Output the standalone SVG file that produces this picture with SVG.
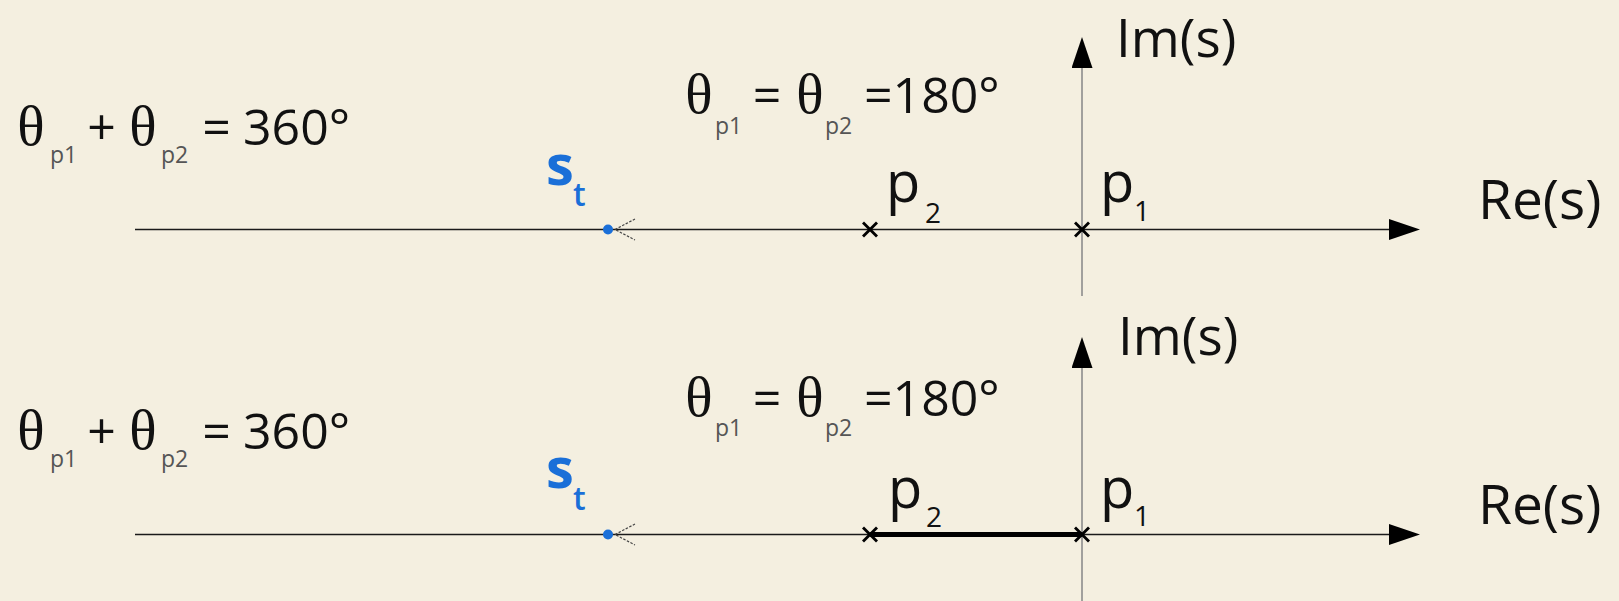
<svg xmlns="http://www.w3.org/2000/svg" width="1619" height="601" viewBox="0 0 1619 601">
<defs>
<marker id="axisArrow" viewBox="0 0 31 21" refX="0" refY="10.5" markerWidth="31" markerHeight="21" markerUnits="userSpaceOnUse" orient="auto">
<path d="M0,0 L31,10.5 L0,21 z" fill="#000"/>
</marker>
<style>
.bg{fill:#f4efe0}
.re{stroke:#1a1a1a;stroke-width:1.6;fill:none}
.im{stroke:#8c8c8c;stroke-width:1.6;fill:none}
.cross{stroke:#000;stroke-width:2.8;stroke-linecap:butt}
.thick{stroke:#000;stroke-width:5}
.dash{stroke:#444;stroke-width:1.2;stroke-dasharray:2.5 1.5;fill:none}
.dot{fill:#1a6fd8}
.th{font-family:"Liberation Serif",serif;font-size:57px;fill:#111;text-anchor:middle}
.sub{font-family:"Open Sans",sans-serif;font-size:23px;fill:#555}
.op{font-family:"Open Sans",sans-serif;font-size:50px;fill:#111}
.ax{font-family:"Open Sans",sans-serif;font-size:55px;fill:#111}
.axi{font-family:"Open Sans",sans-serif;font-size:53px;fill:#111}
.pl{font-family:"Open Sans",sans-serif;font-size:56px;fill:#111}
.ps{font-family:"Open Sans",sans-serif;font-size:28px;fill:#111}
.st{font-family:"Open Sans",sans-serif;font-size:56px;font-weight:bold;fill:#1a6fd8}
.stt{font-family:"Open Sans",sans-serif;font-size:32px;font-weight:600;fill:#1a6fd8}
</style>
</defs>
<rect class="bg" x="0" y="0" width="1619" height="601"/>

<g id="connectors">
<line class="im" x1="1082" y1="296" x2="1082" y2="68" marker-end="url(#axisArrow)"/>
<line class="re" x1="135" y1="229.5" x2="1389" y2="229.5" marker-end="url(#axisArrow)"/>
<polyline class="dash" points="635,219 615,229.5 635,240"/>
<line class="im" x1="1082" y1="601" x2="1082" y2="368" marker-end="url(#axisArrow)"/>
<line class="re" x1="135" y1="534.5" x2="1389" y2="534.5" marker-end="url(#axisArrow)"/>
<polyline class="dash" points="635,524 615,534.5 635,545"/>
<line class="thick" x1="870" y1="534.5" x2="1082" y2="534.5"/>
</g>

<g id="top-sum-label">
<text class="th" x="31" y="145">θ</text>
<text class="sub" x="50" y="163">p1</text>
<text class="op" x="101.5" y="145" text-anchor="middle">+</text>
<text class="th" x="143" y="145">θ</text>
<text class="sub" x="161" y="163">p2</text>
<text class="op" x="216.5" y="145" text-anchor="middle">=</text>
<text class="op" x="243" y="145">360°</text>
</g>
<g id="top-eq-label">
<text class="th" x="699" y="113">θ</text>
<text class="sub" x="715" y="134">p1</text>
<text class="op" x="767" y="113" text-anchor="middle">=</text>
<text class="th" x="810" y="113">θ</text>
<text class="sub" x="825" y="134">p2</text>
<text class="op" x="864" y="113">=180°</text>
</g>
<g id="top-im-label"><text class="axi" x="1116" y="57">Im(s)</text></g>
<g id="top-re-label"><text class="ax" x="1478" y="219">Re(s)</text></g>
<g id="top-st">
<circle class="dot" cx="608" cy="229.5" r="5"/>
<text class="st" x="546" y="185">s</text>
<text class="stt" x="573" y="206">t</text>
</g>
<g id="top-p2">
<line class="cross" x1="863" y1="222.5" x2="877" y2="236.5"/>
<line class="cross" x1="863" y1="236.5" x2="877" y2="222.5"/>
<text class="pl" x="886" y="202">p</text>
<text class="ps" x="925" y="223">2</text>
</g>
<g id="top-p1">
<line class="cross" x1="1075" y1="222.5" x2="1089" y2="236.5"/>
<line class="cross" x1="1075" y1="236.5" x2="1089" y2="222.5"/>
<text class="pl" x="1100" y="202">p</text>
<text class="ps" x="1134" y="221">1</text>
</g>

<g id="bottom-sum-label">
<text class="th" x="31" y="449">θ</text>
<text class="sub" x="50" y="467">p1</text>
<text class="op" x="101.5" y="449" text-anchor="middle">+</text>
<text class="th" x="143" y="449">θ</text>
<text class="sub" x="161" y="467">p2</text>
<text class="op" x="216.5" y="449" text-anchor="middle">=</text>
<text class="op" x="243" y="449">360°</text>
</g>
<g id="bottom-eq-label">
<text class="th" x="699" y="416">θ</text>
<text class="sub" x="715" y="436">p1</text>
<text class="op" x="767" y="416" text-anchor="middle">=</text>
<text class="th" x="810" y="416">θ</text>
<text class="sub" x="825" y="436">p2</text>
<text class="op" x="864" y="416">=180°</text>
</g>
<g id="bottom-im-label"><text class="axi" x="1118" y="355">Im(s)</text></g>
<g id="bottom-re-label"><text class="ax" x="1478" y="524">Re(s)</text></g>
<g id="bottom-st">
<circle class="dot" cx="608" cy="534.5" r="5"/>
<text class="st" x="546" y="488">s</text>
<text class="stt" x="573" y="510">t</text>
</g>
<g id="bottom-p2">
<line class="cross" x1="863" y1="527.5" x2="877" y2="541.5"/>
<line class="cross" x1="863" y1="541.5" x2="877" y2="527.5"/>
<text class="pl" x="888" y="508">p</text>
<text class="ps" x="926" y="527">2</text>
</g>
<g id="bottom-p1">
<line class="cross" x1="1075" y1="527.5" x2="1089" y2="541.5"/>
<line class="cross" x1="1075" y1="541.5" x2="1089" y2="527.5"/>
<text class="pl" x="1100" y="508">p</text>
<text class="ps" x="1134" y="526">1</text>
</g>
</svg>
